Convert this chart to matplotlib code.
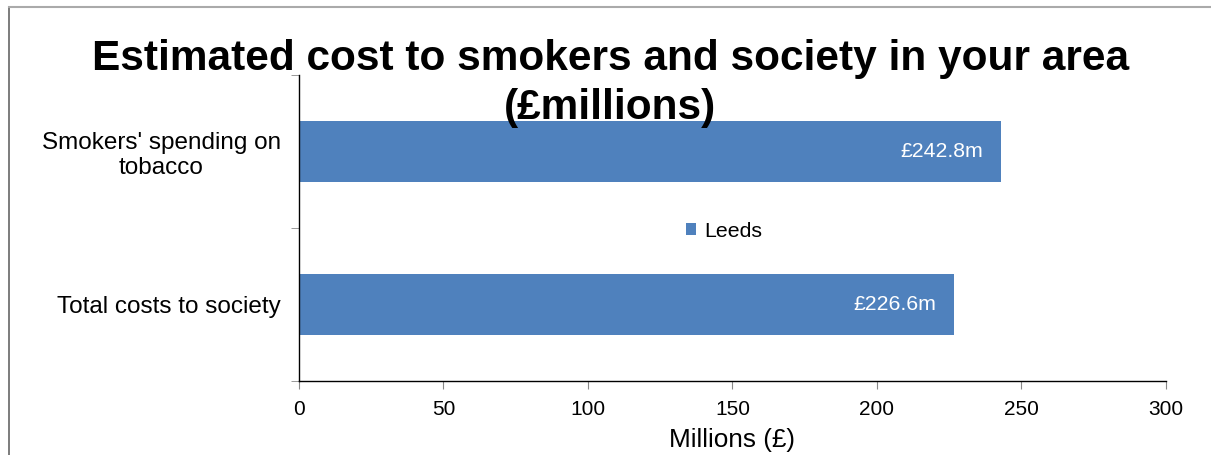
import matplotlib.pyplot as plt
from matplotlib.lines import Line2D

plt.rcParams['font.family'] = ['Liberation Sans', 'DejaVu Sans']

categories = ["Total costs to society", "Smokers' spending on\ntobacco"]
values = [226.6, 242.8]
labels = ["£226.6m", "£242.8m"]
series_name = "Leeds"
xticks = [0, 50, 100, 150, 200, 250, 300]

bar_color = '#4F81BD'

fig = plt.figure(figsize=(12.11, 4.55), dpi=100)
ax = fig.add_axes([0.2469, 0.1626, 0.7159, 0.6726])

bars = ax.barh(range(len(categories)), values, height=0.4, color=bar_color,
               label=series_name)
for bar, lab in zip(bars, labels):
    ax.text(bar.get_width() - 6, bar.get_y() + bar.get_height() / 2, lab,
            ha='right', va='center', color='white', fontsize=15.3)

ax.set_xlim(0, 300)
ax.set_ylim(-0.5, 1.5)
ax.set_xticks(xticks)
ax.set_yticks(range(len(categories)))
ax.set_yticklabels(categories, ha='right', multialignment='center')
ax.set_yticks([-0.5, 0.5, 1.5], minor=True)
ax.tick_params(axis='y', which='major', length=0, pad=13, labelsize=17.5)
ax.tick_params(axis='y', which='minor', length=6, color='#888888', direction='out')
ax.tick_params(axis='x', length=6, color='#888888', labelsize=15, pad=8)
ax.set_xlabel('Millions (£)', fontsize=18.8, labelpad=6)

for s in ['top', 'right']:
    ax.spines[s].set_visible(False)
for s in ['left', 'bottom']:
    ax.spines[s].set_color('black')
    ax.spines[s].set_linewidth(1)

ax.legend(loc='center', bbox_to_anchor=(0.49, 0.49), frameon=False, fontsize=15.3,
          handlelength=0.5, handleheight=0.5, handletextpad=0.35)

fig.text(0.504, 0.915, 'Estimated cost to smokers and society in your area\n(£millions)',
         ha='center', va='top', fontsize=30.5, fontweight='bold', linespacing=1.3)

# outer chart border (left and top only visible)
fig.add_artist(Line2D([9 / 1211, 9 / 1211], [0, 1 - 7 / 455], color='#666666', lw=1.2,
                      transform=fig.transFigure))
fig.add_artist(Line2D([9 / 1211, 1], [1 - 7 / 455, 1 - 7 / 455], color='#aaaaaa', lw=1.5,
                      transform=fig.transFigure))

fig.savefig('out.png', dpi=100)
